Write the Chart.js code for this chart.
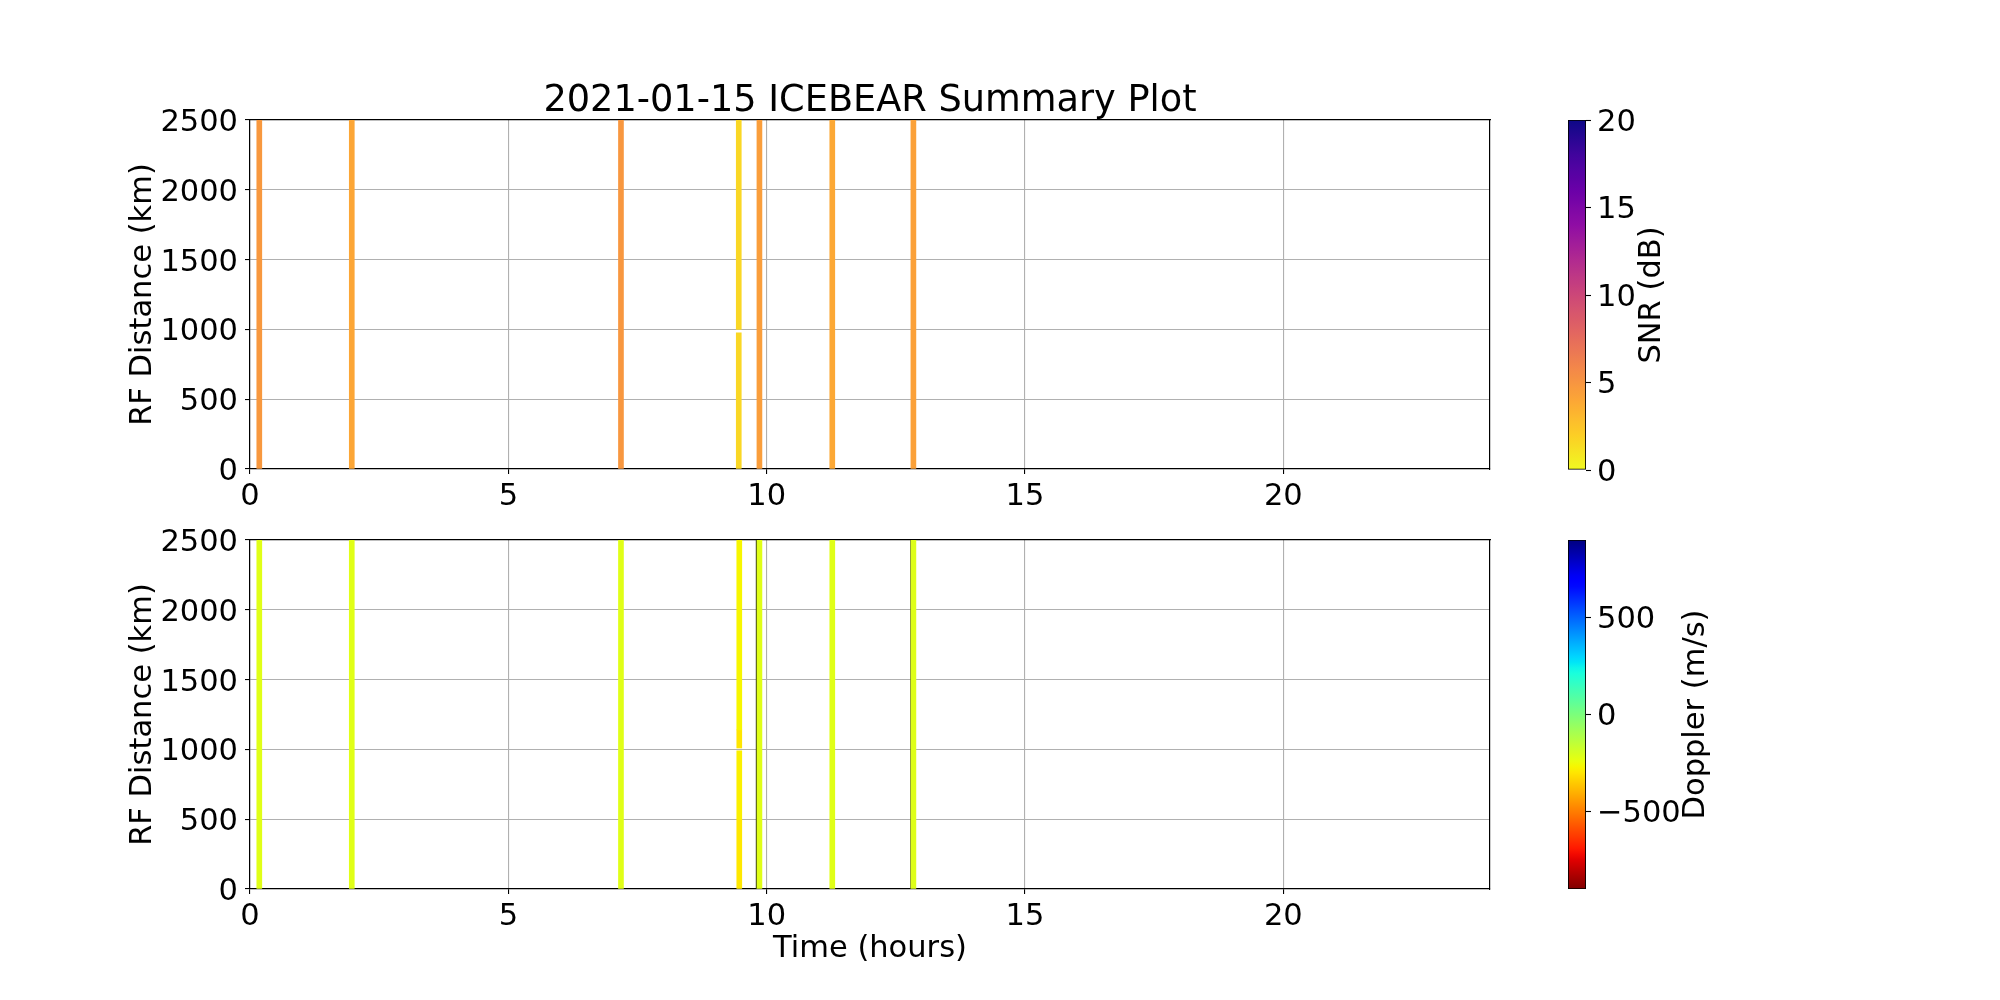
<!DOCTYPE html>
<html>
<head>
<meta charset="utf-8">
<script src="https://cdn.jsdelivr.net/npm/chart.js@4.4.1/dist/chart.umd.min.js"></script>
<style>
  html, body { margin: 0; padding: 0; background: #fff; }
  #fig { position: relative; width: 2000px; height: 1000px; overflow: hidden; background: #fff; }
  canvas { position: absolute; }
</style>
</head>
<body>
<div id="fig">
  <canvas id="snrPlot" width="1740" height="520" style="left:0;top:0"></canvas>
  <canvas id="dopPlot" width="1740" height="520" style="left:0;top:480px"></canvas>
  <canvas id="snrBar" width="300" height="520" style="left:1500px;top:0"></canvas>
  <canvas id="dopBar" width="300" height="520" style="left:1500px;top:480px"></canvas>
</div>
<script>
const plotTitle = '2021-01-15 ICEBEAR Summary Plot'
const hourTicks = [0, 5, 10, 15, 20]
const rangeTicks = [0, 500, 1000, 1500, 2000, 2500]
const snrTicks = [0, 5, 10, 15, 20]
const dopplerTicks = [-500, 0, 500]
const snrLimits = [0, 20]
const dopplerLimits = [-900, 900]

// top panel: echo streaks (hour, range span in km, SNR in dB)
const snrHours = [0.18, 1.97, 7.18, 9.46, 9.46, 9.86, 11.27, 12.84]
const snrLow = [0, 0, 0, 0, 1000, 0, 0, 0]
const snrHigh = [2500, 2500, 2500, 976, 2500, 2500, 2500, 2500]
const snrValues = [4.8, 4.0, 4.9, 1.6, 1.6, 4.5, 3.9, 4.3]

// bottom panel: same streaks coloured by Doppler (m/s)
const dopHours = [0.18, 1.97, 7.18, 9.47, 9.47, 9.47, 9.47, 9.86, 11.27, 12.84]
const dopLow = [0, 0, 0, 0, 500, 1010, 1140, 0, 0, 0]
const dopHigh = [2500, 2500, 2500, 500, 990, 1140, 2500, 2500, 2500, 2500]
const dopValues = [-220, -220, -220, -295, -280, -300, -270, -220, -220, -215]

// thin dark edges seen on the left of two streaks
const edgeHours = [9.81, 12.80]
const edgeLow = [0, 0]
const edgeHigh = [2500, 2500]

Chart.defaults.font.family = 'DejaVu Sans'
Chart.defaults.color = '#000'

const FONT = { family: 'DejaVu Sans', size: 30.5, weight: 'normal' }

// matplotlib plasma, sampled every 0.1
const plasmaStops = ['#0d0887', '#41049d', '#6a00a8', '#8f0da4', '#b12a90', '#cc4778',
    '#e16462', '#f2844b', '#fca636', '#fcce25', '#f0f921']

function hexToRgb(h) {
    return [1, 3, 5].map(i => parseInt(h.slice(i, i + 2), 16))
}

function plasma(t) {
    t = Math.min(1, Math.max(0, t))
    const f = t * 10
    const i = Math.min(9, Math.floor(f))
    const a = hexToRgb(plasmaStops[i])
    const b = hexToRgb(plasmaStops[i + 1])
    const k = f - i
    const c = a.map((v, j) => Math.round(v + (b[j] - v) * k))
    return `rgb(${c[0]},${c[1]},${c[2]})`
}

const jetR = [[0, 0], [0.35, 0], [0.66, 1], [0.89, 1], [1, 0.5]]
const jetG = [[0, 0], [0.125, 0], [0.375, 1], [0.64, 1], [0.91, 0], [1, 0]]
const jetB = [[0, 0.5], [0.11, 1], [0.34, 1], [0.65, 0], [1, 0]]

function seg(s, t) {
    for (let i = 0; i < s.length - 1; i++) {
        if (t <= s[i + 1][0]) {
            const k = (t - s[i][0]) / (s[i + 1][0] - s[i][0])
            return s[i][1] + (s[i + 1][1] - s[i][1]) * k
        }
    }
    return s[s.length - 1][1]
}

function jet(t) {
    t = Math.min(1, Math.max(0, t))
    return `rgb(${Math.round(255 * seg(jetR, t))},${Math.round(255 * seg(jetG, t))},${Math.round(255 * seg(jetB, t))})`
}

const snrColor = v => plasma(1 - (v - snrLimits[0]) / (snrLimits[1] - snrLimits[0]))
const dopColor = v => jet((dopplerLimits[1] - v) / (dopplerLimits[1] - dopplerLimits[0]))

function streaks(hours, low, high, colors, thickness) {
    return {
        data: hours.map((h, i) => ({ x: h, y: [low[i], high[i]] })),
        backgroundColor: colors,
        borderWidth: 0,
        barThickness: thickness,
        grouped: false,
    }
}

function fixTicks(values) {
    return s => { s.ticks = values.map(v => ({ value: v })) }
}

const plain = v => String(v).replace('-', '\u2212')

function panelConfig(datasets, o) {
    return {
        type: 'bar',
        data: { datasets },
        options: {
            responsive: false,
            animation: false,
            devicePixelRatio: 1,
            layout: { padding: o.padding },
            plugins: {
                legend: { display: false },
                tooltip: { enabled: false },
                title: o.title || { display: false },
            },
            scales: {
                x: {
                    type: 'linear', axis: 'x', position: 'bottom', min: 0, max: 24, offset: false, z: 1,
                    afterBuildTicks: fixTicks(hourTicks),
                    afterFit: s => { s.height = o.xHeight },
                    grid: { color: '#b0b0b0', lineWidth: 1.1, offset: false, tickColor: '#000', tickLength: 5, tickWidth: 1.1 },
                    border: { color: '#000', width: 1.2 },
                    ticks: { font: FONT, padding: 5, maxRotation: 0, callback: plain },
                    title: o.xTitle || { display: false },
                },
                y: {
                    type: 'linear', axis: 'y', position: 'left', min: 0, max: 2500, z: 1,
                    afterBuildTicks: fixTicks(rangeTicks),
                    afterFit: s => { s.width = 250 },
                    grid: { color: '#b0b0b0', lineWidth: 1.1, tickColor: '#000', tickLength: 5, tickWidth: 1.1 },
                    border: { color: '#000', width: 1.2 },
                    ticks: { font: FONT, padding: 7, labelOffset: 3, callback: plain },
                    title: { display: true, text: 'RF Distance (km)', font: FONT, padding: { top: 124.7, bottom: 0 } },
                },
                xTop: {
                    type: 'linear', axis: 'x', position: 'top', min: 0, max: 24, offset: false, z: 1,
                    afterFit: s => { s.height = 0 },
                    grid: { display: false },
                    ticks: { display: false },
                    border: { color: '#000', width: 1.2 },
                },
                yRight: {
                    type: 'linear', axis: 'y', position: 'right', min: 0, max: 2500, z: 1,
                    afterFit: s => { s.width = 250 },
                    grid: { display: false },
                    ticks: { display: false },
                    border: { color: '#000', width: 1.2 },
                },
            },
        },
    }
}

// rotated colorbar label (reads bottom to top like matplotlib)
const cbarLabel = {
    id: 'cbarLabel',
    afterDraw(chart, args, opts) {
        const { ctx, chartArea } = chart
        ctx.save()
        ctx.translate(opts.x, (chartArea.top + chartArea.bottom) / 2)
        ctx.rotate(-Math.PI / 2)
        ctx.font = `${FONT.size}px "${FONT.family}"`
        ctx.fillStyle = '#000'
        ctx.textAlign = 'center'
        ctx.textBaseline = 'middle'
        ctx.fillText(opts.text, 0, 0)
        ctx.restore()
    }
}

function colorbarConfig(limits, tickValues, colorAt, padding, label, labelX) {
    const [min, max] = limits
    return {
        type: 'bar',
        data: {
            labels: [''],
            datasets: [{
                data: [[min, max]],
                backgroundColor: (c) => {
                    const a = c.chart.chartArea
                    if (!a) return 'transparent'
                    const g = c.chart.ctx.createLinearGradient(0, a.bottom, 0, a.top)
                    for (let i = 0; i <= 60; i++) {
                        const f = i / 60
                        g.addColorStop(f, colorAt(min + f * (max - min)))
                    }
                    return g
                },
                borderColor: '#000',
                borderWidth: 1.2,
                borderSkipped: false,
                barPercentage: 1,
                categoryPercentage: 1,
            }],
        },
        options: {
            responsive: false,
            animation: false,
            devicePixelRatio: 1,
            layout: { padding },
            plugins: {
                legend: { display: false },
                tooltip: { enabled: false },
                cbarLabel: { text: label, x: labelX },
            },
            scales: {
                x: { display: false },
                y: {
                    position: 'right', min, max,
                    afterBuildTicks: fixTicks(tickValues),
                    afterFit: s => { s.width = 214 },
                    grid: { drawOnChartArea: false, drawTicks: true, tickLength: 5, tickColor: '#000', tickWidth: 1.1 },
                    border: { display: false },
                    ticks: { font: FONT, padding: 6, labelOffset: 3, callback: plain },
                },
            },
        },
        plugins: [cbarLabel],
    }
}

new Chart(document.getElementById('snrPlot'), panelConfig(
    [streaks(snrHours, snrLow, snrHigh, snrValues.map(snrColor), 5)],
    {
        padding: { left: 0, right: 0, top: 0, bottom: 0 },
        xHeight: 51,
        title: {
            display: true, text: plotTitle,
            font: { family: 'DejaVu Sans', size: 36.7, weight: 'normal', lineHeight: 1 },
            color: '#000', padding: { top: 83.3, bottom: 0 },
        },
    }
))

new Chart(document.getElementById('dopPlot'), panelConfig(
    [
        streaks(dopHours, dopLow, dopHigh, dopValues.map(dopColor), 5),
        streaks(edgeHours, edgeLow, edgeHigh, '#111', 1.4),
    ],
    {
        padding: { left: 0, right: 0, top: 60, bottom: 0 },
        xHeight: 111,
        xTitle: { display: true, text: 'Time (hours)', font: FONT, padding: { top: 0, bottom: 32.7 } },
    }
))

new Chart(document.getElementById('snrBar'), colorbarConfig(
    snrLimits, snrTicks, snrColor, { left: 68, right: 0, top: 120, bottom: 50 }, 'SNR (dB)', 152
))

new Chart(document.getElementById('dopBar'), colorbarConfig(
    dopplerLimits, dopplerTicks, dopColor, { left: 68, right: 0, top: 60, bottom: 111 }, 'Doppler (m/s)', 196
))
</script>
</body>
</html>
